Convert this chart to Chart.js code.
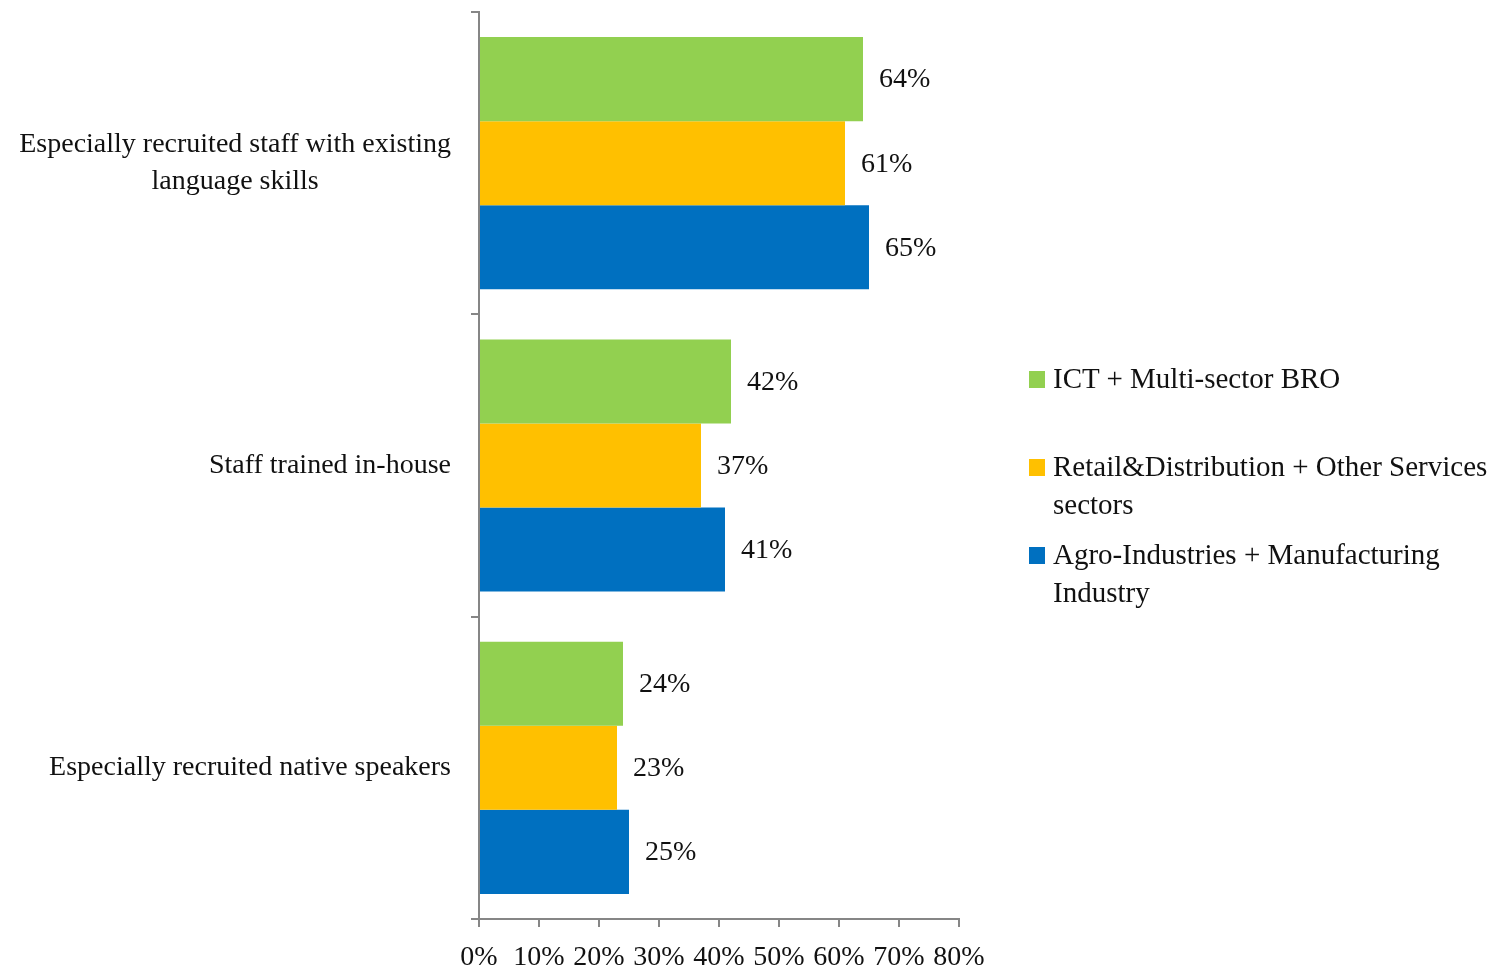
<!DOCTYPE html>
<html>
<head>
<meta charset="utf-8">
<script src="https://cdn.jsdelivr.net/npm/chart.js@4.4.1/dist/chart.umd.min.js"></script>
<style>
  html, body { margin: 0; padding: 0; background: #fff; }
  #wrap { position: relative; width: 1493px; height: 967px; }
  #legend {
    position: absolute; left: 1029px; top: 359px;
    font-family: "Liberation Serif", serif; font-size: 29px; color: #111;
  }
  .item { position: relative; height: 88px; padding-left: 24px; line-height: 38px; white-space: nowrap; }
  .item .sw { position: absolute; left: 0; top: 12px; width: 16px; height: 17px; }
</style>
</head>
<body>
<div id="wrap">
  <canvas id="chart" width="1493" height="967"></canvas>
  <div id="legend"></div>
</div>
<script>
const categories = [
  ['Especially recruited staff with existing', 'language skills'],
  'Staff trained in-house',
  'Especially recruited native speakers'
];
const seriesNames = [
  ['ICT + Multi-sector BRO'],
  ['Retail&Distribution + Other Services', 'sectors'],
  ['Agro-Industries + Manufacturing', 'Industry']
];
const ictValues = [64, 42, 24];
const retailValues = [61, 37, 23];
const agroValues = [65, 41, 25];
const colors = ['#92D050', '#FFC000', '#0070C0'];

const FONT = '"Liberation Serif", serif';
const AXIS = '#868686';

// legend
const legendEl = document.getElementById('legend');
seriesNames.forEach((name, i) => {
  const item = document.createElement('div');
  item.className = 'item';
  item.innerHTML = `<span class="sw" style="background:${colors[i]}"></span>${name.join('<br>')}`;
  legendEl.appendChild(item);
});

// value labels right of bars
const valueLabels = {
  id: 'valueLabels',
  afterDatasetsDraw(chart) {
    const ctx = chart.ctx;
    ctx.save();
    ctx.font = '28px ' + FONT;
    ctx.fillStyle = '#111';
    ctx.textAlign = 'left';
    ctx.textBaseline = 'middle';
    chart.data.datasets.forEach((ds, di) => {
      chart.getDatasetMeta(di).data.forEach((bar, i) => {
        ctx.fillText(ds.data[i] + '%', bar.x + 16, bar.y + 1);
      });
    });
    ctx.restore();
  }
};

// category labels: block right-aligned, lines centred in block
const catLabels = {
  id: 'catLabels',
  afterDraw(chart) {
    const ctx = chart.ctx;
    const y = chart.scales.y;
    const right = chart.chartArea.left - 28;
    const lh = 37;
    ctx.save();
    ctx.font = '28px ' + FONT;
    ctx.fillStyle = '#111';
    ctx.textAlign = 'center';
    ctx.textBaseline = 'middle';
    categories.forEach((c, i) => {
      const lines = Array.isArray(c) ? c : [c];
      const w = Math.max(...lines.map(l => ctx.measureText(l).width));
      const cy = y.getPixelForTick(i);
      lines.forEach((l, k) => {
        ctx.fillText(l, right - w / 2, cy + (k - (lines.length - 1) / 2) * lh);
      });
    });
    ctx.restore();
  }
};

new Chart(document.getElementById('chart'), {
  type: 'bar',
  data: {
    labels: categories,
    datasets: [
      { label: seriesNames[0].join(' '), data: ictValues, backgroundColor: colors[0] },
      { label: seriesNames[1].join(' '), data: retailValues, backgroundColor: colors[1] },
      { label: seriesNames[2].join(' '), data: agroValues, backgroundColor: colors[2] }
    ]
  },
  options: {
    indexAxis: 'y',
    responsive: false,
    animation: false,
    barPercentage: 1,
    categoryPercentage: 0.834,
    layout: { padding: { top: 12, right: 534, bottom: 0, left: 0 } },
    plugins: { legend: { display: false }, tooltip: { enabled: false } },
    scales: {
      x: {
        min: 0, max: 80,
        ticks: {
          stepSize: 10,
          padding: 17,
          maxRotation: 0,
          autoSkip: false,
          color: '#111',
          font: { family: FONT, size: 28, lineHeight: 1 },
          callback: v => v + '%'
        },
        grid: { drawOnChartArea: false, tickLength: 8, color: AXIS, lineWidth: 2 },
        border: { color: AXIS, width: 2 },
        afterFit(scale) { scale.height = 48; }
      },
      y: {
        ticks: { display: false },
        grid: { offset: true, drawOnChartArea: false, tickLength: 8, color: AXIS, lineWidth: 2 },
        border: { color: AXIS, width: 2 },
        afterFit(scale) { scale.width = 479; }
      }
    }
  },
  plugins: [valueLabels, catLabels]
});
</script>
</body>
</html>
